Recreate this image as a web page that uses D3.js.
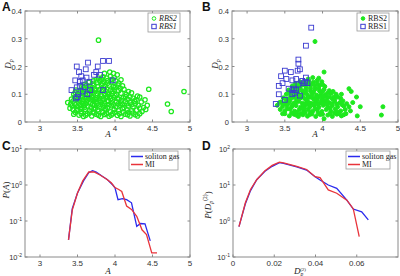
<!DOCTYPE html>
<html>
<head>
<meta charset="utf-8">
<script src="https://cdn.jsdelivr.net/npm/d3@7"></script>
<style>
  body { margin: 0; background: #fff; }
  svg { display: block; }
</style>
</head>
<body>
<div id="chart"></div>
<script>
// ---- data ----
const ampTicks = [3, 3.5, 4, 4.5, 5];
const dpTicks = [0, 0.1, 0.2, 0.3, 0.4];
const dp2Ticks = [0, 0.02, 0.04, 0.06];
const expTicksC = [-2, -1, 0, 1];
const expTicksD = [-1, 0, 1, 2];

// panel A: [A, Dp]
const rbs2A = [
  [3.52,0.025],[3.58,0.02],[3.63,0.03],[3.69,0.022],[3.75,0.028],[3.81,0.02],[3.86,0.027],[3.92,0.021],[3.97,0.03],[4.03,0.024],[4.08,0.02],[4.14,0.028],[4.2,0.022],[4.27,0.026],[4.33,0.03],[3.47,0.035],[3.44,0.045],
  [3.4,0.05],[3.49,0.042],[3.55,0.038],[3.6,0.045],[3.66,0.04],[3.71,0.036],[3.77,0.044],[3.83,0.038],[3.88,0.043],[3.94,0.037],[3.99,0.045],[4.05,0.04],[4.11,0.036],[4.16,0.044],[4.22,0.04],[4.29,0.043],[4.36,0.038],[4.41,0.045],
  [3.37,0.07],[3.43,0.058],[3.5,0.055],[3.54,0.06],[3.59,0.052],[3.64,0.058],[3.68,0.053],[3.73,0.06],[3.79,0.054],[3.84,0.058],[3.9,0.052],[3.95,0.059],[4.01,0.055],[4.07,0.06],[4.12,0.052],[4.18,0.058],[4.24,0.055],[4.31,0.06],[4.38,0.052],
  [3.46,0.068],[3.52,0.072],[3.57,0.066],[3.62,0.073],[3.67,0.068],[3.72,0.075],[3.76,0.067],[3.81,0.072],[3.86,0.068],[3.91,0.074],[3.96,0.069],[4.02,0.073],[4.08,0.068],[4.14,0.074],[4.2,0.07],[4.27,0.066],[4.35,0.072],
  [3.42,0.083],[3.49,0.088],[3.55,0.082],[3.6,0.088],[3.65,0.084],[3.7,0.089],[3.74,0.082],[3.79,0.087],[3.84,0.083],[3.89,0.089],[3.94,0.084],[3.99,0.088],[4.05,0.083],[4.11,0.087],[4.17,0.082],[4.24,0.086],[4.3,0.093],
  [3.45,0.1],[3.5,0.097],[3.56,0.103],[3.61,0.098],[3.66,0.102],[3.71,0.097],[3.76,0.103],[3.81,0.099],[3.86,0.104],[3.91,0.098],[3.96,0.103],[4.02,0.099],[4.08,0.104],[4.15,0.1],[4.22,0.105],
  [3.48,0.115],[3.54,0.112],[3.59,0.118],[3.64,0.113],[3.69,0.118],[3.74,0.112],[3.79,0.117],[3.84,0.113],[3.89,0.119],[3.94,0.114],[3.99,0.118],[4.05,0.113],[4.12,0.118],
  [3.56,0.128],[3.62,0.132],[3.67,0.127],[3.72,0.133],[3.77,0.128],[3.82,0.134],[3.87,0.129],[3.92,0.133],[3.98,0.128],[4.04,0.133],[4.1,0.13],
  [3.65,0.143],[3.71,0.148],[3.76,0.142],[3.8,0.148],[3.85,0.144],[3.9,0.149],[3.95,0.144],[4.01,0.148],[4.08,0.152],
  [3.78,0.158],[3.84,0.163],[3.89,0.158],[3.94,0.165],[3.99,0.16],[3.86,0.175],[3.93,0.18],[3.98,0.175],[4.03,0.17],
  [3.5,0.045],[3.58,0.06],[3.63,0.078],[3.69,0.09],[3.74,0.05],[3.78,0.062],[3.82,0.093],[3.87,0.048],[3.92,0.063],[3.97,0.08],[4.0,0.095],[4.04,0.065],
  [3.55,0.092],[3.6,0.108],[3.65,0.122],[3.7,0.107],[3.75,0.087],[3.8,0.078],[3.85,0.123],[3.9,0.092],[3.53,0.078],[3.66,0.032],[3.72,0.048],[3.84,0.034],
  [3.9,0.078],[4.1,0.048],[4.14,0.092],[4.18,0.035],[4.26,0.075],[3.62,0.088],[3.46,0.09],[3.41,0.065],
  [3.45,0.028],[3.55,0.03],[3.61,0.024],[3.72,0.032],[3.78,0.024],[3.89,0.03],[3.95,0.025],[4.0,0.035],[4.06,0.03],[4.17,0.026],[4.24,0.032],[4.3,0.022],
  [3.47,0.062],[3.56,0.05],[3.61,0.066],[3.7,0.063],[3.75,0.072],[3.86,0.06],[3.98,0.062],[4.1,0.062],[4.16,0.066],[4.22,0.062],[4.33,0.05],
  [3.44,0.075],[3.52,0.08],[3.58,0.076],[3.68,0.08],[3.72,0.082],[3.83,0.077],[3.93,0.092],[4.03,0.085],[4.09,0.078],[4.2,0.09],[4.28,0.08],
  [3.47,0.107],[3.53,0.107],[3.58,0.125],[3.68,0.11],[3.73,0.12],[3.78,0.108],[3.88,0.11],[3.96,0.11],[4.0,0.125],[4.07,0.122],[4.18,0.11],
  [3.6,0.137],[3.7,0.138],[3.75,0.152],[3.83,0.14],[3.9,0.14],[3.96,0.153],[4.05,0.14],[3.82,0.155],
  [3.78,0.295],[4.45,0.118],[4.7,0.065],[4.75,0.038],[4.92,0.11],[4.4,0.08],[4.43,0.06],[4.33,0.09]
];
const rbs1A = [
  [3.49,0.2],[3.52,0.18],[3.64,0.214],[3.77,0.2],[3.84,0.22],[3.92,0.22],[3.61,0.19],[3.75,0.18],[3.8,0.17],
  [3.47,0.15],[3.53,0.145],[3.57,0.15],[3.62,0.16],[3.66,0.145],[3.72,0.17],[3.55,0.165],
  [3.42,0.115],[3.49,0.125],[3.53,0.13],[3.51,0.1],[3.5,0.09],[3.48,0.085],[3.57,0.11],[3.67,0.115],
  [3.97,0.15],[3.84,0.115],[3.6,0.125],[3.63,0.1]
];

// panel B: [A, Dp]
const rbs2B = [
  [3.5,0.03],[3.56,0.022],[3.62,0.028],[3.68,0.02],[3.74,0.026],[3.8,0.021],[3.86,0.029],[3.91,0.02],[3.97,0.027],[4.02,0.012],[4.07,0.025],[4.13,0.02],[4.19,0.028],[4.25,0.022],[4.31,0.03],
  [3.44,0.045],[3.5,0.04],[3.57,0.046],[3.63,0.039],[3.69,0.044],[3.75,0.038],[3.81,0.045],[3.87,0.039],[3.93,0.044],[3.99,0.038],[4.05,0.045],[4.11,0.039],[4.17,0.046],[4.24,0.04],[4.3,0.045],[4.37,0.04],
  [3.4,0.06],[3.47,0.056],[3.53,0.06],[3.59,0.054],[3.65,0.059],[3.71,0.053],[3.77,0.06],[3.83,0.054],[3.89,0.059],[3.95,0.053],[4.01,0.06],[4.07,0.054],[4.13,0.059],[4.2,0.055],[4.28,0.058],[4.35,0.055],
  [3.45,0.072],[3.51,0.067],[3.56,0.073],[3.62,0.068],[3.68,0.074],[3.73,0.068],[3.79,0.073],[3.85,0.067],[3.91,0.072],[3.97,0.068],[4.03,0.074],[4.09,0.069],[4.16,0.073],[4.23,0.07],
  [3.48,0.087],[3.54,0.083],[3.6,0.088],[3.66,0.082],[3.71,0.087],[3.77,0.083],[3.83,0.089],[3.88,0.083],[3.94,0.088],[4.0,0.083],[4.06,0.088],[4.13,0.084],[4.2,0.09],
  [3.52,0.1],[3.58,0.097],[3.64,0.103],[3.69,0.098],[3.75,0.104],[3.8,0.098],[3.86,0.103],[3.92,0.097],[3.98,0.102],[4.04,0.098],[4.11,0.103],[4.18,0.1],
  [3.55,0.115],[3.61,0.112],[3.67,0.118],[3.73,0.113],[3.78,0.119],[3.84,0.113],[3.9,0.118],[3.96,0.112],[4.02,0.117],[4.09,0.113],
  [3.6,0.13],[3.66,0.127],[3.72,0.132],[3.78,0.128],[3.84,0.133],[3.9,0.128],[3.96,0.132],[4.03,0.128],
  [3.7,0.145],[3.76,0.142],[3.82,0.148],[3.88,0.143],[3.93,0.15],[3.99,0.145],[3.87,0.16],
  [3.53,0.048],[3.6,0.062],[3.66,0.08],[3.71,0.092],[3.76,0.05],[3.81,0.064],[3.86,0.092],[3.9,0.048],[3.94,0.064],[3.99,0.078],[4.02,0.093],[4.06,0.064],
  [3.58,0.092],[3.63,0.108],[3.7,0.122],[3.74,0.09],[3.79,0.08],[3.84,0.122],[3.92,0.09],[3.66,0.034],[3.72,0.05],[3.84,0.034],[3.93,0.078],[4.1,0.05],
  [4.15,0.09],[4.2,0.036],[4.27,0.076],[3.48,0.065],
  [3.47,0.03],[3.59,0.032],[3.65,0.025],[3.71,0.03],[3.77,0.034],[3.83,0.027],[3.94,0.032],[4.0,0.028],[4.1,0.03],[4.16,0.032],[4.22,0.03],[4.28,0.026],
  [3.43,0.07],[3.54,0.066],[3.64,0.07],[3.75,0.064],[3.82,0.07],[3.88,0.066],[4.0,0.068],[4.06,0.076],[4.12,0.066],[4.19,0.064],[4.26,0.062],[4.32,0.066],
  [3.51,0.082],[3.57,0.08],[3.63,0.09],[3.69,0.083],[3.81,0.09],[3.9,0.082],[3.97,0.094],[4.09,0.09],[4.16,0.08],[4.24,0.085],
  [3.55,0.105],[3.61,0.12],[3.67,0.108],[3.78,0.108],[3.88,0.108],[3.95,0.122],[4.0,0.11],[4.07,0.105],[4.14,0.11],
  [3.64,0.138],[3.69,0.133],[3.75,0.135],[3.81,0.138],[3.87,0.137],[3.93,0.138],[4.0,0.135],[3.81,0.155],[3.95,0.158],
  [3.9,0.29],[4.02,0.18],[4.35,0.12],[4.38,0.11],[4.45,0.09],[4.5,0.055],[4.46,0.022],[4.8,0.055],[4.78,0.025],[4.25,0.1],[4.4,0.07]
];
const rbs1B = [
  [3.85,0.34],[3.78,0.275],[3.68,0.225],[3.68,0.21],[3.67,0.185],[3.7,0.19],[3.5,0.185],[3.58,0.18],[3.45,0.165],[3.52,0.155],
  [3.6,0.15],[3.65,0.155],[3.73,0.148],[3.78,0.16],[3.42,0.13],[3.47,0.14],[3.38,0.065],[3.5,0.08],[3.42,0.1],[3.6,0.115],
  [3.62,0.12],[3.65,0.115],[3.7,0.095],[3.6,0.1],[3.75,0.14],[3.8,0.14],[3.77,0.145],[3.63,0.105],[3.55,0.12],[3.68,0.135]
];

// panel C: [A, P(A)]
const solitonC = [[3.38,0.03],[3.43,0.22],[3.5,0.6],[3.58,1.3],[3.65,2.2],[3.7,2.5],[3.75,2.3],[3.82,1.8],[3.9,1.4],[3.97,1.0],[4.0,0.83],[4.04,0.39],[4.1,0.42],[4.155,0.39],[4.22,0.32],[4.29,0.071],[4.34,0.085],[4.4,0.083],[4.47,0.028]];
const miC = [[3.38,0.03],[3.43,0.2],[3.5,0.6],[3.57,1.3],[3.65,2.3],[3.72,2.3],[3.8,1.9],[3.88,1.5],[3.95,1.15],[4.0,0.85],[4.05,0.75],[4.09,0.66],[4.155,0.26],[4.22,0.21],[4.29,0.135],[4.36,0.057],[4.42,0.042],[4.49,0.013],[4.56,0.013]];

// panel D: [Dp2, P(Dp2)]
const solitonD = [[0.0029,0.7],[0.006,3],[0.0085,7],[0.0115,14],[0.0155,24],[0.019,33],[0.0225,42],[0.0245,40],[0.0309,32],[0.0357,26],[0.0398,17],[0.0422,13.8],[0.0462,10],[0.0503,8.1],[0.0552,3.8],[0.0583,2.15],[0.0624,1.8],[0.0656,1.07]];
const miD = [[0.0029,0.7],[0.006,3.2],[0.0085,7.5],[0.0115,14],[0.0155,25],[0.019,35],[0.0225,43],[0.0245,41],[0.0309,33],[0.0357,27],[0.0398,17],[0.0422,16],[0.0462,7.3],[0.0503,5.9],[0.0552,3.8],[0.0583,2.2],[0.0612,0.37]];

// ---- drawing ----
const W = 400, H = 276;
const axisCol = "#8a8a8a", textCol = "#333";
const green = "#1ee81e", blue = "#3a3ad0", lineBlue = "#2a2aee", lineRed = "#e8333a";

const svg = d3.select("#chart").append("svg")
  .attr("width", W).attr("height", H)
  .style("font-family", "'Liberation Sans', Arial, sans-serif");

function frame(x, y, xTicks, yTicks, fmtX, logY) {
  const g = svg.append("g");
  const [x0, x1] = x.range(), [y0, y1] = y.range();
  g.append("rect").attr("x", x0).attr("y", y1).attr("width", x1 - x0).attr("height", y0 - y1)
    .attr("fill", "none").attr("stroke", axisCol).attr("stroke-width", 1);
  xTicks.forEach(t => {
    const px = x(t);
    g.append("line").attr("x1", px).attr("x2", px).attr("y1", y0).attr("y2", y0 - 2.5).attr("stroke", axisCol);
    g.append("line").attr("x1", px).attr("x2", px).attr("y1", y1).attr("y2", y1 + 2.5).attr("stroke", axisCol);
    g.append("text").attr("x", px).attr("y", y0 + 9).attr("text-anchor", "middle")
      .attr("font-size", 8).attr("fill", textCol).text(fmtX(t));
  });
  yTicks.forEach(t => {
    const v = logY ? Math.pow(10, t) : t;
    const py = y(v);
    g.append("line").attr("x1", x0).attr("x2", x0 + 2.5).attr("y1", py).attr("y2", py).attr("stroke", axisCol);
    g.append("line").attr("x1", x1).attr("x2", x1 - 2.5).attr("y1", py).attr("y2", py).attr("stroke", axisCol);
    const tx = g.append("text").attr("x", x0 - 3).attr("y", py + 3).attr("text-anchor", "end")
      .attr("font-size", 7.5).attr("fill", textCol);
    if (logY) {
      tx.append("tspan").text("10");
      tx.append("tspan").attr("dy", -3.5).attr("font-size", 5).text(t);
    } else {
      tx.text(t);
    }
  });
  return g;
}

function panelLetter(s, px, py) {
  svg.append("text").attr("x", px).attr("y", py).attr("font-size", 12).attr("font-weight", "bold")
    .attr("fill", "#111").text(s);
}

function mathLabel(px, py, rotate, parts) {
  const t = svg.append("text").attr("font-family", "'Liberation Serif', 'Times New Roman', serif")
    .attr("font-size", 9).attr("fill", "#222").attr("text-anchor", "middle")
    .attr("transform", `translate(${px},${py})` + (rotate ? " rotate(-90)" : ""));
  parts.forEach(p => {
    const s = t.append("tspan").text(p.t);
    if (p.i) s.attr("font-style", "italic");
    if (p.dy) s.attr("dy", p.dy);
    if (p.dx) s.attr("dx", p.dx);
    if (p.fs) s.attr("font-size", p.fs);
  });
}

function legend(x0, y0, w, h, items, italic) {
  const g = svg.append("g");
  g.append("rect").attr("x", x0).attr("y", y0).attr("width", w).attr("height", h)
    .attr("fill", "#fff").attr("stroke", "#999").attr("stroke-width", 0.8);
  items.forEach((it, i) => {
    const cy = y0 + 5.5 + i * 8;
    if (it.kind === "circle") {
      g.append("circle").attr("cx", x0 + 6).attr("cy", cy).attr("r", 1.8)
        .attr("fill", it.fill ? it.color : "none").attr("stroke", it.color).attr("stroke-width", 1);
    } else if (it.kind === "square") {
      g.append("rect").attr("x", x0 + 3.8).attr("y", cy - 2.2).attr("width", 4.4).attr("height", 4.4)
        .attr("fill", "none").attr("stroke", it.color).attr("stroke-width", 1);
    } else {
      g.append("line").attr("x1", x0 + 2).attr("x2", x0 + 14).attr("y1", cy).attr("y2", cy)
        .attr("stroke", it.color).attr("stroke-width", 1.5);
    }
    g.append("text").attr("x", x0 + (it.kind === "line" ? 16 : 11)).attr("y", cy + 2.6)
      .attr("font-family", "'Liberation Serif', 'Times New Roman', serif")
      .attr("font-style", italic ? "italic" : "normal")
      .attr("font-size", 8).attr("fill", "#222").text(it.label);
  });
}

function scatter(x, y, pts, shape, color, filled) {
  const g = svg.append("g");
  if (shape === "circle") {
    g.selectAll("circle").data(pts).enter().append("circle")
      .attr("cx", d => x(d[0])).attr("cy", d => y(d[1])).attr("r", filled ? 2 : 2.2)
      .attr("fill", filled ? color : "none").attr("stroke", color).attr("stroke-width", filled ? 1 : 1.25);
  } else {
    g.selectAll("rect").data(pts).enter().append("rect")
      .attr("x", d => x(d[0]) - 2.4).attr("y", d => y(d[1]) - 2.4)
      .attr("width", 4.8).attr("height", 4.8)
      .attr("fill", "none").attr("stroke", color).attr("stroke-width", 0.9);
  }
}

function curve(x, y, pts, color) {
  svg.append("path").datum(pts)
    .attr("d", d3.line().x(d => x(d[0])).y(d => y(d[1])))
    .attr("fill", "none").attr("stroke", color).attr("stroke-width", 1.3);
}

const fmtAmp = d => d === 3 || d === 4 || d === 5 ? d : d.toFixed(1);

// A
const xA = d3.scaleLinear().domain([2.8, 5]).range([25, 190]);
const yA = d3.scaleLinear().domain([0, 0.4]).range([122, 11]);
frame(xA, yA, ampTicks, dpTicks, fmtAmp, false);
scatter(xA, yA, rbs2A, "circle", green, false);
scatter(xA, yA, rbs1A, "square", blue, false);
legend(148, 13, 32, 19, [
  { kind: "circle", color: green, label: "RBS2" },
  { kind: "square", color: blue, label: "RBS1" }
], true);
panelLetter("A", 2, 11);
mathLabel(108, 137, false, [{ t: "A", i: true }]);
mathLabel(11, 64, true, [{ t: "D", i: true }, { t: "p", i: true, dy: 2, fs: 6 }]);

// B
const xB = d3.scaleLinear().domain([2.8, 5]).range([232, 398]);
const yB = d3.scaleLinear().domain([0, 0.4]).range([122, 11]);
frame(xB, yB, ampTicks, dpTicks, fmtAmp, false);
scatter(xB, yB, rbs2B, "circle", green, true);
scatter(xB, yB, rbs1B, "square", blue, false);
legend(357, 13, 32, 18, [
  { kind: "circle", color: green, label: "RBS2", fill: true },
  { kind: "square", color: blue, label: "RBS1" }
], false);
panelLetter("B", 202, 11);
mathLabel(315, 137, false, [{ t: "A", i: true }]);
mathLabel(218, 64, true, [{ t: "D", i: true }, { t: "p", i: true, dy: 2, fs: 6 }]);

// C
const xC = d3.scaleLinear().domain([2.8, 5]).range([25, 190]);
const yC = d3.scaleLog().domain([0.01, 10]).range([257, 149]);
frame(xC, yC, ampTicks, expTicksC, fmtAmp, true);
curve(xC, yC, solitonC, lineBlue);
curve(xC, yC, miC, lineRed);
legend(129, 151, 49, 19, [
  { kind: "line", color: lineBlue, label: "soliton gas" },
  { kind: "line", color: lineRed, label: "MI" }
], false);
panelLetter("C", 2, 150);
mathLabel(108, 274, false, [{ t: "A", i: true }]);
mathLabel(9, 190, true, [{ t: "P", i: true }, { t: "(" }, { t: "A", i: true }, { t: ")" }]);

// D
const xD = d3.scaleLinear().domain([0, 0.08]).range([233, 398]);
const yD = d3.scaleLog().domain([0.1, 100]).range([257, 149]);
frame(xD, yD, dp2Ticks, expTicksD, d => d === 0 ? "0" : d.toFixed(2), true);
curve(xD, yD, solitonD, lineBlue);
curve(xD, yD, miD, lineRed);
legend(346, 151, 44, 18, [
  { kind: "line", color: lineBlue, label: "soliton gas" },
  { kind: "line", color: lineRed, label: "MI" }
], false);
panelLetter("D", 202, 150);
mathLabel(300, 274, false, [{ t: "D", i: true }, { t: "p", i: true, dy: 1.5, fs: 5.5 }, { t: "(2)", dx: -3, dy: -5, fs: 5 }]);
mathLabel(211, 205, true, [{ t: "P", i: true }, { t: "(" }, { t: "D", i: true }, { t: "p", i: true, dy: 2, fs: 6 }, { t: "(2)", dy: -6, fs: 5.5 }, { t: ")", dy: 4 }]);
</script>
</body>
</html>
